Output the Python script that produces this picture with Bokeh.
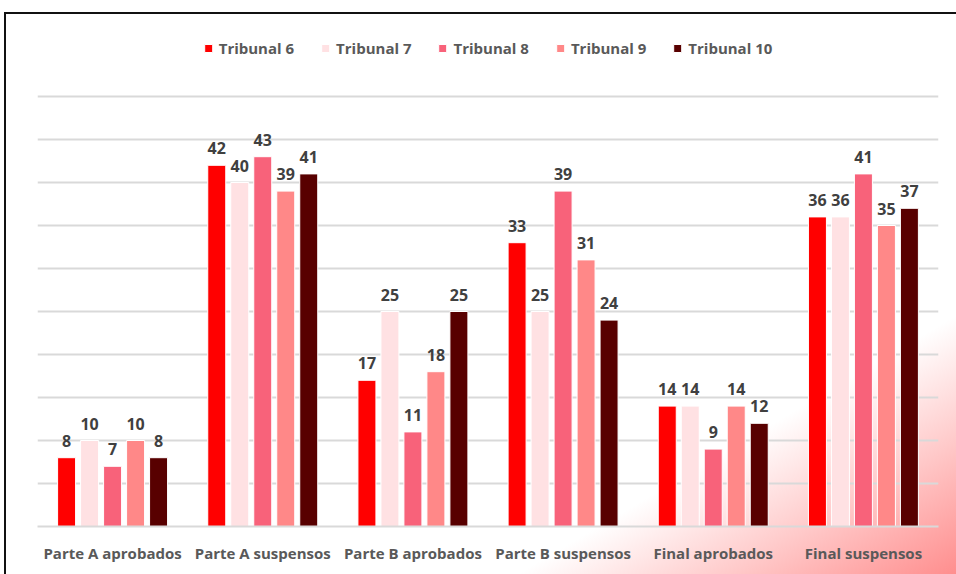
from bokeh.plotting import figure
from bokeh.models import FactorRange, Range1d, FixedTicker, ColumnDataSource, Legend, LegendItem
from bokeh.transform import dodge
from bokeh.core.properties import value
from bokeh.embed import file_html
from bokeh.resources import INLINE

categories = ["Parte A aprobados", "Parte A suspensos", "Parte B aprobados",
              "Parte B suspensos", "Final aprobados", "Final suspensos"]
series_names = ["Tribunal 6", "Tribunal 7", "Tribunal 8", "Tribunal 9", "Tribunal 10"]
tribunal_6 = [8, 42, 17, 33, 14, 36]
tribunal_7 = [10, 40, 25, 25, 14, 36]
tribunal_8 = [7, 43, 11, 39, 9, 41]
tribunal_9 = [10, 39, 18, 31, 14, 35]
tribunal_10 = [8, 41, 25, 24, 12, 37]
series_values = [tribunal_6, tribunal_7, tribunal_8, tribunal_9, tribunal_10]
colors = ["#FF0000", "#FFE1E3", "#F8627A", "#FF8888", "#580000"]
grid_ticks = [0, 5, 10, 15, 20, 25, 30, 35, 40, 45, 50]

FONT = "Open Sans"
W, H = 952, 562

p = figure(width=W, height=H, x_range=FactorRange(*categories, range_padding=0),
           y_range=Range1d(0, 494 / 8.6), output_backend="svg", toolbar_location=None,
           min_border_left=33, min_border_right=18, min_border_top=20, min_border_bottom=48)
p.x_range.range_padding = 0
p.background_fill_alpha = 0
p.border_fill_alpha = 0
p.outline_line_color = None
p.styles = {
    "margin-left": "4px",
    "margin-top": "12px",
    "background": "linear-gradient(to bottom right, #ffffff 0%, #ffffff 77%, #ffcaca 88%, #ff8e8e 100%)",
    "box-shadow": "inset 2px 2px 0 0 #111111",
}

src = ColumnDataSource(dict(cat=categories,
                            **{f"s{i}": v for i, v in enumerate(series_values)},
                            **{f"l{i}": [str(x) for x in v] for i, v in enumerate(series_values)}))

step = 23 / 150.2
bw = 18 / 150.2
items = []
for i, name in enumerate(series_names):
    off = (i - 2) * step
    r = p.vbar(x=dodge("cat", off, range=p.x_range), top=f"s{i}", width=bw, source=src,
               fill_color=colors[i], line_color="white", line_width=1)
    items.append(LegendItem(label=name, renderers=[r]))
    p.text(x=dodge("cat", off, range=p.x_range), y=f"s{i}", text=f"l{i}", source=src,
           text_align="center", text_baseline="alphabetic", y_offset=-17,
           text_font=value(FONT), text_font_style="bold", text_font_size="16px",
           text_color="#404040")

legend = Legend(items=items, orientation="horizontal", location="top_center",
                background_fill_alpha=0, border_line_color=None,
                label_text_font=FONT, label_text_font_style="bold", label_text_font_size="15px",
                label_text_color="#595959", glyph_width=10, glyph_height=10,
                label_standoff=6, spacing=26, margin=6, padding=0)
p.add_layout(legend, "center")

p.yaxis.visible = False
p.ygrid.ticker = FixedTicker(ticks=grid_ticks)
p.ygrid.grid_line_color = "#D9D9D9"
p.ygrid.grid_line_width = 2
p.xgrid.grid_line_color = None

p.xaxis.axis_line_color = "#D9D9D9"
p.xaxis.axis_line_width = 2
p.xaxis.major_tick_line_color = None
p.xaxis.minor_tick_line_color = None
p.xaxis.major_tick_out = 0
p.xaxis.major_label_standoff = 16
p.xaxis.major_label_text_font = FONT
p.xaxis.major_label_text_font_style = "bold"
p.xaxis.major_label_text_font_size = "15px"
p.xaxis.major_label_text_color = "#595959"

open("out.html", "w").write(file_html(p, INLINE))
